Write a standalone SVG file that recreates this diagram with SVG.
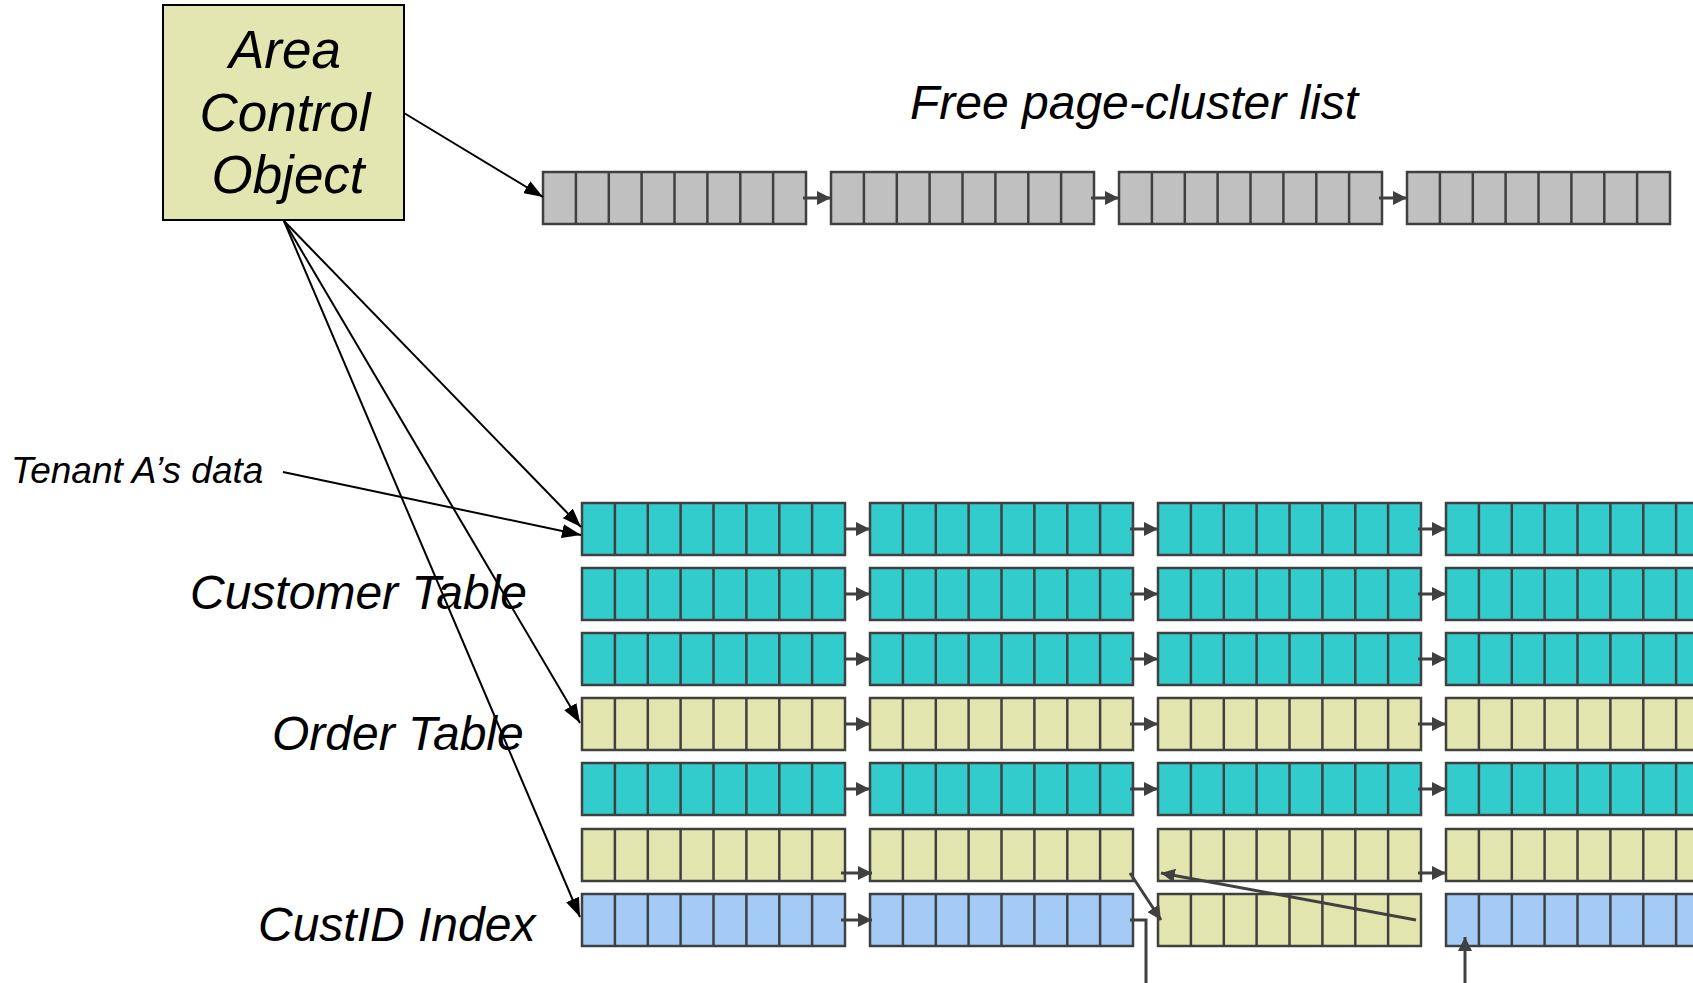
<svg xmlns="http://www.w3.org/2000/svg" xmlns:xlink="http://www.w3.org/1999/xlink" width="1693" height="983" viewBox="0 0 1693 983">
<style>
.lbl{font-family:"Liberation Sans",Arial,sans-serif;font-style:italic;fill:#000}
.box{stroke:#404040;stroke-width:2.5}
.gray{fill:#C0C0C0}.cyan{fill:#33CCCC}.yel{fill:#E3E5AF}.blue{fill:#A4CBF5}
.div{stroke:#404040;stroke-width:2.5;fill:none}
.sa{stroke:#404040;stroke-width:3;fill:none;marker-end:url(#ah)}
.sl{stroke:#404040;stroke-width:3;fill:none}
.ba{stroke:#000;stroke-width:2;fill:none;marker-end:url(#bh)}
</style>
<defs>
<marker id="ah" markerUnits="userSpaceOnUse" markerWidth="15" markerHeight="14" refX="14" refY="7" orient="auto"><path d="M0,0L14,7L0,14z" fill="#404040"/></marker>
<marker id="bh" markerUnits="userSpaceOnUse" markerWidth="20" markerHeight="14" refX="19" refY="7" orient="auto"><path d="M0,0L19,7L0,14z" fill="#000"/></marker>
<path id="div" class="div" d="M32.9,0V52M65.8,0V52M98.6,0V52M131.5,0V52M164.4,0V52M197.3,0V52M230.1,0V52"/>
</defs>
<rect width="1693" height="983" fill="#fff"/>

<g id="area-control-object">
<rect x="163" y="5" width="241" height="215" fill="#E3E6B0" stroke="#000" stroke-width="2"/>
<text class="lbl" x="285" y="68" font-size="53" text-anchor="middle">Area</text>
<text class="lbl" x="285" y="131" font-size="53" text-anchor="middle">Control</text>
<text class="lbl" x="288" y="193" font-size="53" text-anchor="middle">Object</text>
</g>

<g id="label-free"><text class="lbl" x="910" y="119" font-size="48">Free page-cluster list</text></g>
<g id="label-tenant"><text class="lbl" x="11" y="483" font-size="37">Tenant A’s data</text></g>
<g id="label-customer"><text class="lbl" x="190" y="609" font-size="48">Customer Table</text></g>
<g id="label-order"><text class="lbl" x="272" y="750" font-size="48">Order Table</text></g>
<g id="label-custid"><text class="lbl" x="258" y="941" font-size="48">CustID Index</text></g>

<g id="free-1"><rect class="box gray" x="543" y="172" width="263" height="52"/><use xlink:href="#div" x="543" y="172"/></g>
<g id="free-2"><rect class="box gray" x="831" y="172" width="263" height="52"/><use xlink:href="#div" x="831" y="172"/></g>
<g id="free-3"><rect class="box gray" x="1119" y="172" width="263" height="52"/><use xlink:href="#div" x="1119" y="172"/></g>
<g id="free-4"><rect class="box gray" x="1407" y="172" width="263" height="52"/><use xlink:href="#div" x="1407" y="172"/></g>

<g id="r1c1"><rect class="box cyan" x="582" y="503" width="263" height="52"/><use xlink:href="#div" x="582" y="503"/></g>
<g id="r1c2"><rect class="box cyan" x="870" y="503" width="263" height="52"/><use xlink:href="#div" x="870" y="503"/></g>
<g id="r1c3"><rect class="box cyan" x="1158" y="503" width="263" height="52"/><use xlink:href="#div" x="1158" y="503"/></g>
<g id="r1c4"><rect class="box cyan" x="1446" y="503" width="263" height="52"/><use xlink:href="#div" x="1446" y="503"/></g>

<g id="r2c1"><rect class="box cyan" x="582" y="568" width="263" height="52"/><use xlink:href="#div" x="582" y="568"/></g>
<g id="r2c2"><rect class="box cyan" x="870" y="568" width="263" height="52"/><use xlink:href="#div" x="870" y="568"/></g>
<g id="r2c3"><rect class="box cyan" x="1158" y="568" width="263" height="52"/><use xlink:href="#div" x="1158" y="568"/></g>
<g id="r2c4"><rect class="box cyan" x="1446" y="568" width="263" height="52"/><use xlink:href="#div" x="1446" y="568"/></g>

<g id="r3c1"><rect class="box cyan" x="582" y="633" width="263" height="52"/><use xlink:href="#div" x="582" y="633"/></g>
<g id="r3c2"><rect class="box cyan" x="870" y="633" width="263" height="52"/><use xlink:href="#div" x="870" y="633"/></g>
<g id="r3c3"><rect class="box cyan" x="1158" y="633" width="263" height="52"/><use xlink:href="#div" x="1158" y="633"/></g>
<g id="r3c4"><rect class="box cyan" x="1446" y="633" width="263" height="52"/><use xlink:href="#div" x="1446" y="633"/></g>

<g id="r4c1"><rect class="box yel" x="582" y="698" width="263" height="52"/><use xlink:href="#div" x="582" y="698"/></g>
<g id="r4c2"><rect class="box yel" x="870" y="698" width="263" height="52"/><use xlink:href="#div" x="870" y="698"/></g>
<g id="r4c3"><rect class="box yel" x="1158" y="698" width="263" height="52"/><use xlink:href="#div" x="1158" y="698"/></g>
<g id="r4c4"><rect class="box yel" x="1446" y="698" width="263" height="52"/><use xlink:href="#div" x="1446" y="698"/></g>

<g id="r5c1"><rect class="box cyan" x="582" y="763" width="263" height="52"/><use xlink:href="#div" x="582" y="763"/></g>
<g id="r5c2"><rect class="box cyan" x="870" y="763" width="263" height="52"/><use xlink:href="#div" x="870" y="763"/></g>
<g id="r5c3"><rect class="box cyan" x="1158" y="763" width="263" height="52"/><use xlink:href="#div" x="1158" y="763"/></g>
<g id="r5c4"><rect class="box cyan" x="1446" y="763" width="263" height="52"/><use xlink:href="#div" x="1446" y="763"/></g>

<g id="r6c1"><rect class="box yel" x="582" y="829" width="263" height="52"/><use xlink:href="#div" x="582" y="829"/></g>
<g id="r6c2"><rect class="box yel" x="870" y="829" width="263" height="52"/><use xlink:href="#div" x="870" y="829"/></g>
<g id="r6c3"><rect class="box yel" x="1158" y="829" width="263" height="52"/><use xlink:href="#div" x="1158" y="829"/></g>
<g id="r6c4"><rect class="box yel" x="1446" y="829" width="263" height="52"/><use xlink:href="#div" x="1446" y="829"/></g>

<g id="r7c1"><rect class="box blue" x="582" y="894" width="263" height="52"/><use xlink:href="#div" x="582" y="894"/></g>
<g id="r7c2"><rect class="box blue" x="870" y="894" width="263" height="52"/><use xlink:href="#div" x="870" y="894"/></g>
<g id="r7c3"><rect class="box yel" x="1158" y="894" width="263" height="52"/><use xlink:href="#div" x="1158" y="894"/></g>
<g id="r7c4"><rect class="box blue" x="1446" y="894" width="263" height="52"/><use xlink:href="#div" x="1446" y="894"/></g>

<g id="connectors">
<line class="ba" x1="404" y1="113" x2="543" y2="197"/>
<line class="ba" x1="284" y1="221" x2="581" y2="527"/>
<line class="ba" x1="284" y1="221" x2="580" y2="723"/>
<line class="ba" x1="284" y1="221" x2="580" y2="917"/>
<line class="ba" x1="283" y1="472" x2="581" y2="535"/>

<line class="sa" x1="803" y1="198" x2="831" y2="198"/>
<line class="sa" x1="1091" y1="198" x2="1119" y2="198"/>
<line class="sa" x1="1379" y1="198" x2="1407" y2="198"/>

<line class="sa" x1="844" y1="529" x2="870" y2="529"/>
<line class="sa" x1="1130" y1="529" x2="1158" y2="529"/>
<line class="sa" x1="1418" y1="529" x2="1446" y2="529"/>
<line class="sa" x1="844" y1="594" x2="870" y2="594"/>
<line class="sa" x1="1130" y1="594" x2="1158" y2="594"/>
<line class="sa" x1="1418" y1="594" x2="1446" y2="594"/>
<line class="sa" x1="844" y1="659" x2="870" y2="659"/>
<line class="sa" x1="1130" y1="659" x2="1158" y2="659"/>
<line class="sa" x1="1418" y1="659" x2="1446" y2="659"/>
<line class="sa" x1="844" y1="724" x2="870" y2="724"/>
<line class="sa" x1="1130" y1="724" x2="1158" y2="724"/>
<line class="sa" x1="1418" y1="724" x2="1446" y2="724"/>
<line class="sa" x1="844" y1="789" x2="870" y2="789"/>
<line class="sa" x1="1130" y1="789" x2="1158" y2="789"/>
<line class="sa" x1="1418" y1="789" x2="1446" y2="789"/>

<line class="sa" x1="841" y1="873" x2="872" y2="873"/>
<line class="sa" x1="1418" y1="873" x2="1446" y2="873"/>
<line class="sa" x1="1130" y1="873" x2="1161" y2="920"/>
<line class="sa" x1="1416" y1="920" x2="1161" y2="873"/>

<line class="sa" x1="841" y1="920" x2="872" y2="920"/>
<polyline class="sl" points="1130,920 1146,920 1146,983"/>
<line class="sa" x1="1465" y1="983" x2="1465" y2="937"/>
</g>
</svg>
